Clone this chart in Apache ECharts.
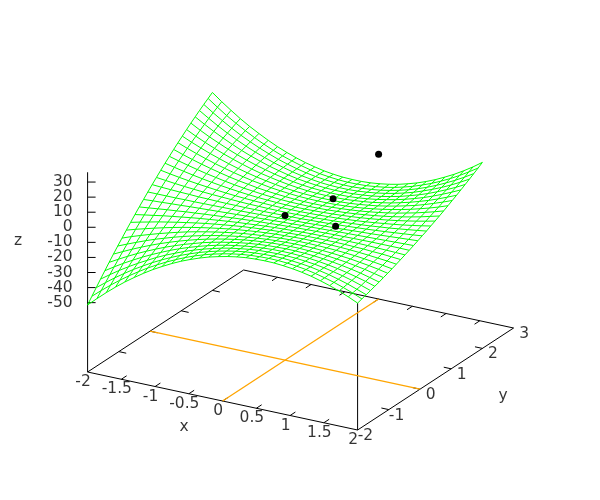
<!DOCTYPE html>
<html>
<head>
<meta charset="utf-8">
<style>html,body{margin:0;padding:0;background:#fff}#c{width:600px;height:500px}</style>
<script src="https://cdn.jsdelivr.net/npm/echarts@6/dist/echarts.min.js"></script>
</head>
<body>
<div id="c"></div>
<script>
var xTicks = [-2,-1.5,-1,-0.5,0,0.5,1,1.5,2];
var yTicks = [-2,-1,0,1,2,3];
var zTicks = [-50,-40,-30,-20,-10,0,10,20,30];
var points = [[0,0,0],[0.75,0,0],[0.25,1,0],[0,3,0]];
// surface heights: one row per x sample (x = -2..2), 30 values per row (y = -2..2)
var surfaceZ = [
[-51.5,-47.6,-43.8,-40.0,-36.3,-32.6,-29.0,-25.5,-22.1,-18.7,-15.4,-12.1,-8.9,-5.8,-2.7,0.3,3.2,6.1,8.9,11.6,14.3,16.9,19.4,21.9,24.3,26.6,28.9,31.1,33.2,35.3],
[-46.0,-42.5,-39.1,-35.7,-32.4,-29.2,-26.0,-22.9,-19.8,-16.8,-13.9,-11.0,-8.2,-5.4,-2.7,-0.1,2.5,5.0,7.5,9.9,12.2,14.5,16.7,18.8,20.9,23.0,25.0,26.9,28.7,30.5],
[-40.7,-37.6,-34.6,-31.6,-28.7,-25.9,-23.1,-20.4,-17.7,-15.1,-12.5,-10.0,-7.5,-5.1,-2.7,-0.4,1.8,4.0,6.2,8.3,10.3,12.3,14.2,16.0,17.8,19.6,21.3,23.0,24.5,26.1],
[-35.7,-33.0,-30.4,-27.8,-25.3,-22.8,-20.4,-18.0,-15.7,-13.4,-11.1,-8.9,-6.8,-4.7,-2.7,-0.7,1.2,3.1,5.0,6.8,8.5,10.2,11.8,13.4,15.0,16.5,17.9,19.3,20.7,21.9],
[-31.0,-28.7,-26.4,-24.2,-22.0,-19.9,-17.8,-15.7,-13.8,-11.8,-9.9,-8.0,-6.2,-4.4,-2.6,-0.9,0.7,2.3,3.9,5.4,6.9,8.3,9.7,11.0,12.3,13.6,14.8,15.9,17.1,18.1],
[-26.7,-24.7,-22.8,-20.9,-19.0,-17.2,-15.4,-13.7,-12.0,-10.3,-8.7,-7.1,-5.5,-4.0,-2.6,-1.2,0.2,1.6,2.9,4.2,5.4,6.6,7.7,8.8,9.9,10.9,11.9,12.9,13.8,14.7],
[-22.6,-20.9,-19.3,-17.7,-16.2,-14.6,-13.2,-11.7,-10.3,-8.9,-7.6,-6.2,-5.0,-3.7,-2.5,-1.3,-0.2,0.9,2.0,3.0,4.0,5.0,5.9,6.8,7.7,8.5,9.3,10.1,10.8,11.5],
[-18.8,-17.5,-16.1,-14.8,-13.5,-12.3,-11.1,-9.9,-8.7,-7.6,-6.5,-5.4,-4.4,-3.4,-2.4,-1.5,-0.5,0.3,1.2,2.0,2.8,3.6,4.3,5.0,5.7,6.4,7.0,7.6,8.1,8.6],
[-15.4,-14.3,-13.2,-12.2,-11.1,-10.1,-9.2,-8.2,-7.3,-6.4,-5.5,-4.7,-3.9,-3.1,-2.3,-1.6,-0.8,-0.2,0.5,1.1,1.8,2.3,2.9,3.4,4.0,4.4,4.9,5.3,5.7,6.1],
[-12.2,-11.4,-10.5,-9.7,-8.9,-8.2,-7.4,-6.7,-6.0,-5.3,-4.6,-4.0,-3.4,-2.8,-2.2,-1.6,-1.1,-0.6,-0.1,0.4,0.8,1.3,1.7,2.1,2.4,2.8,3.1,3.4,3.7,3.9],
[-9.3,-8.7,-8.1,-7.5,-6.9,-6.3,-5.8,-5.3,-4.8,-4.3,-3.8,-3.3,-2.9,-2.5,-2.1,-1.7,-1.3,-0.9,-0.6,-0.3,0.0,0.3,0.6,0.9,1.1,1.3,1.5,1.7,1.9,2.0],
[-6.8,-6.3,-5.9,-5.5,-5.1,-4.7,-4.4,-4.0,-3.7,-3.3,-3.0,-2.7,-2.4,-2.2,-1.9,-1.6,-1.4,-1.2,-1.0,-0.8,-0.6,-0.4,-0.3,-0.1,0.0,0.1,0.2,0.3,0.4,0.5],
[-4.5,-4.2,-4.0,-3.8,-3.5,-3.3,-3.1,-2.9,-2.7,-2.5,-2.3,-2.2,-2.0,-1.9,-1.7,-1.6,-1.5,-1.4,-1.3,-1.2,-1.1,-1.0,-1.0,-0.9,-0.9,-0.8,-0.8,-0.8,-0.8,-0.8],
[-2.5,-2.4,-2.3,-2.2,-2.1,-2.1,-2.0,-1.9,-1.8,-1.8,-1.7,-1.7,-1.6,-1.6,-1.6,-1.5,-1.5,-1.5,-1.5,-1.5,-1.5,-1.5,-1.5,-1.5,-1.5,-1.5,-1.6,-1.6,-1.6,-1.7],
[-0.9,-0.9,-0.9,-0.9,-1.0,-1.0,-1.0,-1.1,-1.1,-1.1,-1.2,-1.2,-1.3,-1.3,-1.4,-1.4,-1.5,-1.5,-1.6,-1.6,-1.7,-1.7,-1.8,-1.9,-1.9,-2.0,-2.1,-2.1,-2.2,-2.3],
[0.5,0.4,0.3,0.1,0.0,-0.1,-0.2,-0.4,-0.5,-0.6,-0.7,-0.8,-0.9,-1.0,-1.1,-1.2,-1.4,-1.5,-1.6,-1.7,-1.8,-1.8,-1.9,-2.0,-2.1,-2.2,-2.3,-2.4,-2.5,-2.5],
[1.6,1.4,1.2,1.0,0.8,0.6,0.4,0.2,0.0,-0.1,-0.3,-0.5,-0.6,-0.8,-0.9,-1.1,-1.2,-1.3,-1.4,-1.6,-1.7,-1.8,-1.9,-2.0,-2.1,-2.2,-2.3,-2.4,-2.4,-2.5],
[2.4,2.1,1.8,1.6,1.3,1.1,0.9,0.6,0.4,0.2,0.0,-0.2,-0.3,-0.5,-0.7,-0.8,-1.0,-1.1,-1.2,-1.4,-1.5,-1.6,-1.7,-1.8,-1.9,-1.9,-2.0,-2.0,-2.1,-2.1],
[2.8,2.5,2.2,1.9,1.7,1.4,1.2,0.9,0.7,0.5,0.3,0.1,-0.1,-0.3,-0.4,-0.6,-0.7,-0.8,-0.9,-1.0,-1.1,-1.2,-1.3,-1.3,-1.4,-1.4,-1.4,-1.4,-1.4,-1.4],
[3.0,2.7,2.4,2.1,1.8,1.6,1.3,1.1,0.9,0.7,0.5,0.3,0.1,0.0,-0.1,-0.3,-0.4,-0.5,-0.5,-0.6,-0.6,-0.7,-0.7,-0.7,-0.7,-0.7,-0.6,-0.6,-0.5,-0.4],
[2.9,2.6,2.3,2.0,1.8,1.5,1.3,1.1,0.9,0.7,0.6,0.4,0.3,0.2,0.1,0.1,0.0,0.0,0.0,0.0,0.0,0.0,0.1,0.1,0.2,0.3,0.5,0.6,0.7,0.9],
[2.4,2.2,1.9,1.7,1.5,1.3,1.1,1.0,0.8,0.7,0.6,0.6,0.5,0.5,0.4,0.5,0.5,0.5,0.6,0.7,0.8,0.9,1.0,1.2,1.4,1.6,1.8,2.0,2.3,2.6],
[1.7,1.5,1.3,1.1,1.0,0.9,0.8,0.7,0.6,0.6,0.6,0.6,0.6,0.7,0.8,0.9,1.0,1.1,1.3,1.5,1.7,1.9,2.2,2.4,2.7,3.0,3.4,3.7,4.1,4.5],
[0.7,0.6,0.5,0.4,0.3,0.3,0.3,0.3,0.3,0.4,0.5,0.6,0.7,0.9,1.1,1.3,1.5,1.8,2.1,2.4,2.7,3.1,3.5,3.9,4.3,4.8,5.2,5.7,6.3,6.8],
[-0.6,-0.7,-0.7,-0.6,-0.6,-0.5,-0.4,-0.3,-0.1,0.1,0.3,0.6,0.8,1.1,1.4,1.8,2.2,2.6,3.0,3.4,3.9,4.4,5.0,5.5,6.1,6.7,7.4,8.0,8.7,9.4],
[-2.3,-2.2,-2.0,-1.9,-1.7,-1.5,-1.2,-0.9,-0.6,-0.3,0.1,0.5,0.9,1.3,1.8,2.3,2.8,3.4,4.0,4.6,5.3,5.9,6.6,7.4,8.1,8.9,9.8,10.6,11.5,12.4],
[-4.2,-3.9,-3.7,-3.3,-3.0,-2.6,-2.2,-1.8,-1.3,-0.8,-0.3,0.3,0.9,1.5,2.2,2.9,3.6,4.3,5.1,5.9,6.7,7.6,8.5,9.4,10.4,11.4,12.4,13.5,14.5,15.6],
[-6.4,-6.0,-5.5,-5.0,-4.5,-3.9,-3.3,-2.7,-2.1,-1.4,-0.6,0.1,0.9,1.7,2.6,3.5,4.4,5.3,6.3,7.3,8.4,9.4,10.6,11.7,12.9,14.1,15.3,16.6,17.9,19.2],
[-9.0,-8.3,-7.7,-7.0,-6.2,-5.5,-4.7,-3.8,-3.0,-2.0,-1.1,-0.1,0.9,1.9,3.0,4.1,5.2,6.4,7.6,8.9,10.1,11.4,12.8,14.2,15.6,17.0,18.5,20.0,21.6,23.1],
[-11.8,-10.9,-10.0,-9.1,-8.1,-7.2,-6.1,-5.1,-4.0,-2.8,-1.6,-0.4,0.8,2.1,3.4,4.8,6.1,7.6,9.0,10.5,12.0,13.6,15.2,16.8,18.5,20.2,21.9,23.7,25.5,27.4]
];

var FONT = 'DejaVu Sans';
var xMin = -2, xMax = 2, yMin = -2, yMax = 3, zBase = -96, zTop = 36.5;

// orthographic view of the 3D box onto the page
function project(x, y, z) {
  return [
    87.6 + (x - xMin) * 67.5 + (y - yMin) * 31.2,
    372 + (x - xMin) * 14.5 - (y - yMin) * 20.4 - (z - zBase) * 1.5075
  ];
}
function add(p, dx, dy) { return [p[0] + dx, p[1] + dy]; }

var series = [];
function polyline(pts, color, width, z) {
  series.push({
    type: 'line', data: pts, showSymbol: false, silent: true, animation: false, z: z,
    lineStyle: { color: color, width: width }, clip: false
  });
}
var BLACK = '#000000', GREEN = '#00ff00', ORANGE = '#ffa500';

// box
polyline([project(xMin,yMin,zBase), project(xMax,yMin,zBase), project(xMax,yMax,zBase), project(xMin,yMax,zBase), project(xMin,yMin,zBase)], BLACK, 1, 2);
polyline([project(xMin,yMin,zBase), project(xMin,yMin,zTop)], BLACK, 1, 2);
polyline([project(xMax,yMin,zBase), project(xMax,yMin,surfaceZ[29][0])], BLACK, 1, 2);

// ticks
xTicks.slice(1, -1).forEach(function (v) {
  polyline([project(v,yMin,zBase), project(v,yMin+0.17,zBase)], BLACK, 1, 2);
  polyline([project(v,yMax,zBase), project(v,yMax-0.17,zBase)], BLACK, 1, 2);
});
yTicks.slice(1, -1).forEach(function (v) {
  polyline([project(xMax,v,zBase), project(xMax-0.11,v,zBase)], BLACK, 1, 2);
  polyline([project(xMin,v,zBase), project(xMin+0.11,v,zBase)], BLACK, 1, 2);
});
zTicks.forEach(function (v) {
  var p = project(xMin,yMin,v);
  polyline([p, add(p,8,0)], BLACK, 1, 2);
});

// zero axes on the base plane
polyline([project(xMin,0,zBase), project(xMax,0,zBase)], ORANGE, 1.3, 3);
polyline([project(0,yMin,zBase), project(0,yMax,zBase)], ORANGE, 1.3, 3);

// wireframe
var nx = surfaceZ.length, ny = surfaceZ[0].length;
function gx(i) { return xMin + i * (xMax - xMin) / (nx - 1); }
function gy(j) { return -2 + j * 4 / (ny - 1); }
for (var i = 0; i < nx; i++) {
  var a = [];
  for (var j = 0; j < ny; j++) a.push(project(gx(i), gy(j), surfaceZ[i][j]));
  polyline(a, GREEN, 1, 4);
}
for (var j2 = 0; j2 < ny; j2++) {
  var b = [];
  for (var i2 = 0; i2 < nx; i2++) b.push(project(gx(i2), gy(j2), surfaceZ[i2][j2]));
  polyline(b, GREEN, 1, 4);
}

// data points
series.push({
  type: 'scatter', silent: true, animation: false, z: 6, symbolSize: 7,
  itemStyle: { color: BLACK, opacity: 1 },
  data: points.map(function (p) { return project(p[0], p[1], p[2]); })
});

// text
function text(list, align) {
  series.push({
    type: 'scatter', silent: true, animation: false, z: 7, symbolSize: 1,
    itemStyle: { color: 'transparent' },
    data: list.map(function (t) {
      return { value: t.p, label: {
        show: true, position: 'inside', formatter: t.s, align: align, verticalAlign: 'middle',
        color: BLACK, fontFamily: FONT, fontSize: 15.5
      } };
    })
  });
}
text(xTicks.map(function (v) {
  return { s: String(v), p: add(project(v,yMin,zBase), -4.5, 10) };
}), 'center');
text(yTicks.map(function (v) {
  return { s: String(v), p: add(project(xMax,v,zBase), 15.5, 6) };
}), 'right');
text(zTicks.map(function (v) {
  return { s: String(v), p: add(project(xMin,yMin,v), -15, 0) };
}), 'right');
text([
  { s: 'x', p: [184, 427] },
  { s: 'y', p: [503, 396] },
  { s: 'z', p: [18, 241] }
], 'center');

var chart = echarts.init(document.getElementById('c'), null, { renderer: 'canvas' });
chart.setOption({
  animation: false,
  backgroundColor: '#ffffff',
  grid: { left: 0, right: 0, top: 0, bottom: 0 },
  xAxis: { type: 'value', min: 0, max: 600, show: false },
  yAxis: { type: 'value', min: 0, max: 500, inverse: true, show: false },
  series: series
});
</script>
</body>
</html>
